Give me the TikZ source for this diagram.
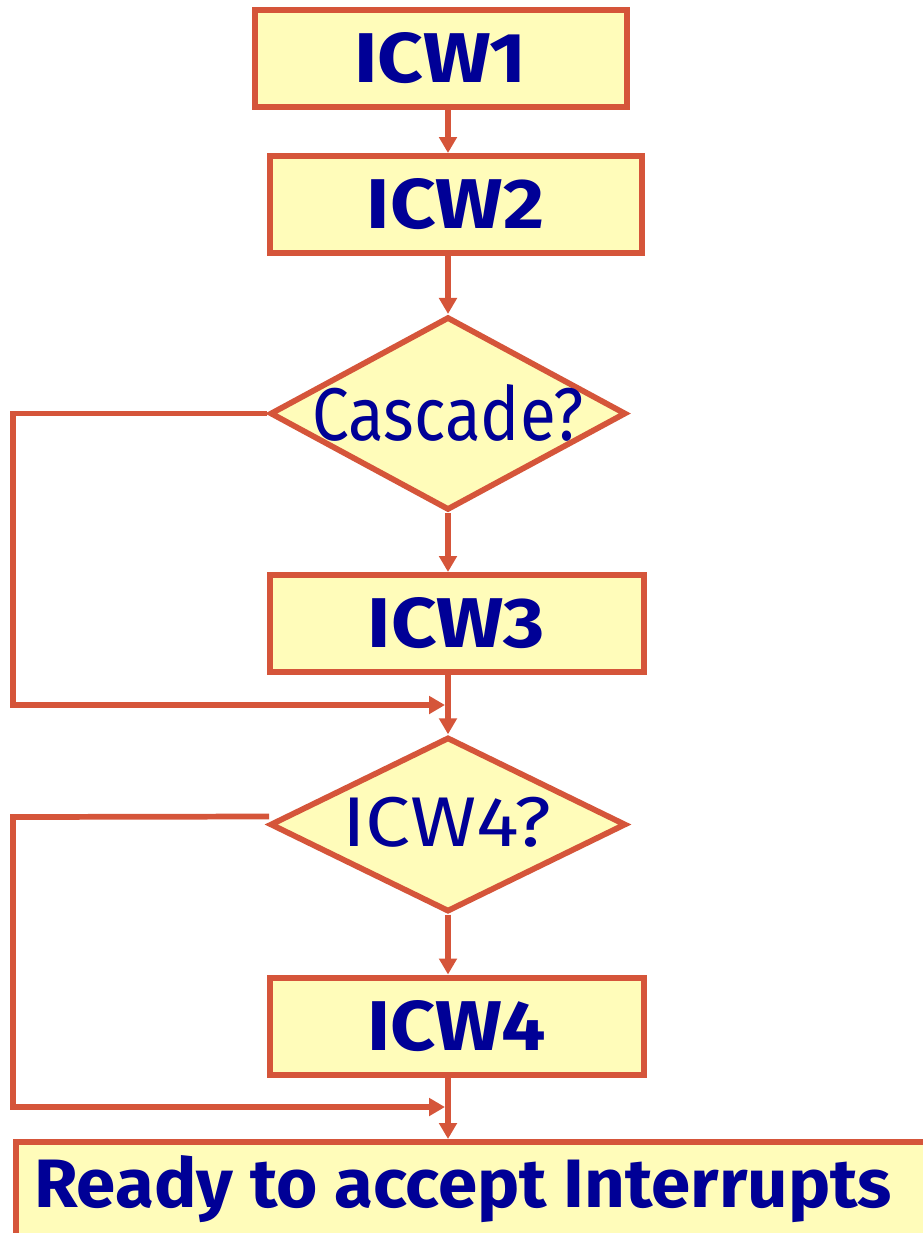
\documentclass[tikz,border=0pt]{standalone}
\usepackage{fontspec}
\setmainfont{Fira Sans}
\usepackage{graphicx}
\usetikzlibrary{shapes.geometric,arrows.meta,calc}
\definecolor{edgec}{HTML}{D5553A}
\definecolor{fillc}{HTML}{FFFCBA}
\definecolor{textc}{HTML}{000096}
\tikzset{
  box/.style={draw=edgec, fill=fillc, line width=4.5pt, minimum width=279pt, minimum height=72.75pt, inner sep=0pt, text=textc, font=\bfseries},
  dec/.style={diamond, draw=edgec, fill=fillc, line width=4.3pt, inner sep=0pt, minimum width=267pt},
  lbl/.style={text=textc, inner sep=0pt},
  conn/.style={draw=edgec, line width=4.3pt},
  arr/.style={conn, -{Triangle[width=13pt,length=12pt]}},
}
\begin{document}
\begin{tikzpicture}[x=0.75pt,y=-0.75pt]
\useasboundingbox (0,0) rectangle (923,1233);
\clip (0,0) rectangle (923,1233);
% boxes
\node[box] (icw1) at (440.5,58.5) {\resizebox{129pt}{37.5pt}{ICW1}};
\node[box] (icw2) at (455.5,204.5) {\resizebox{133pt}{37.5pt}{ICW2}};
\node[dec, minimum height=145pt] (d1) at (448,413.5) {};
\node[lbl] (d1t) at (448,413) {\resizebox{203pt}{42pt}{Cascade?}};
\node[box, minimum width=280.5pt] (icw3) at (456.5,623.5) {\resizebox{133pt}{37.5pt}{ICW3}};
\node[dec, minimum height=131pt] (d2) at (448,824.5) {};
\node[lbl] (d2t) at (447,822) {\resizebox{157pt}{37pt}{ICW4?}};
\node[box, minimum width=280.5pt] (icw4) at (456.5,1026) {\resizebox{134pt}{37.5pt}{ICW4}};
\node[box, minimum width=720pt, minimum height=90pt, anchor=north west] (ready) at (13,1139) {};
\node[lbl, anchor=base west] (readyt) at (34,1207) {\resizebox{643pt}{39pt}{\bfseries Ready to accept Interrupts}};
% connector coordinates
\coordinate (j1) at (448,705);
\coordinate (j2) at (448,1107);
\coordinate (s2) at ($(d2.west)+(2,-8)$);
% connectors
\draw[arr] (icw1.south -| d1.north) -- (icw2.north -| d1.north);
\draw[arr] (icw2.south -| d1.north) -- (d1.north);
\draw[arr] (d1.south) -- (icw3.north -| d1.south);
\draw[arr] (icw3.south -| d1.south) -- (d2.north);
\draw[arr] (d2.south) -- (icw4.north -| d2.south);
\draw[arr] (icw4.south -| d2.south) -- (ready.north -| d2.south);
\draw[arr] (d1.west) -- (13,413.5) |- ($(j1)+(-3,0)$);
\draw[arr] (s2) -- (13,817) |- ($(j2)+(-3,0)$);
\end{tikzpicture}
\end{document}
